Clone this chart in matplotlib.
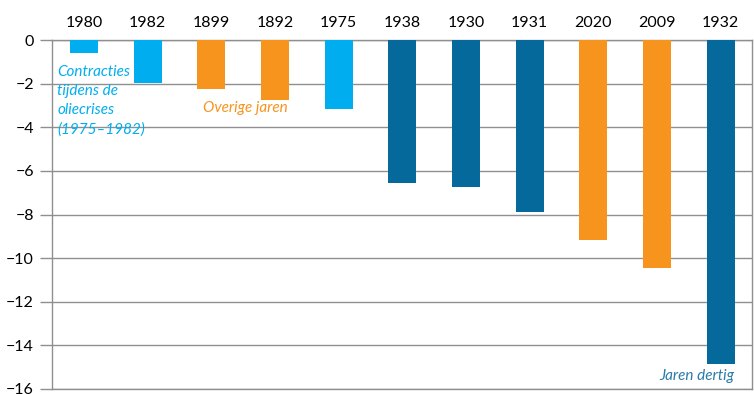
import numpy as np
import matplotlib.pyplot as plt

years = ['1980', '1982', '1899', '1892', '1975', '1938', '1930', '1931', '2020', '2009', '1932']
values = [-0.58, -1.97, -2.25, -2.74, -3.15, -6.55, -6.74, -7.87, -9.16, -10.44, -14.85]
groups = ['olie', 'olie', 'overig', 'overig', 'olie', 'dertig', 'dertig', 'dertig', 'overig', 'overig', 'dertig']

colors = {'olie': '#00AEEF', 'overig': '#F7941E', 'dertig': '#05699B'}
yticks = [0, -2, -4, -6, -8, -10, -12, -14, -16]

plt.rcParams['font.family'] = ['Lato', 'DejaVu Sans']

fig = plt.figure(figsize=(7.54, 3.94), dpi=100)
ax = fig.add_axes([0.069, 0.013, 0.929, 0.885])

x = np.arange(len(years))
ax.bar(x, values, width=0.44, color=[colors[g] for g in groups], zorder=3)

ax.set_xlim(-0.5, len(years) - 0.5)
ax.set_ylim(-16, 0)
ax.set_yticks(yticks)
ax.set_yticklabels([str(t).replace('-', '\u2212') for t in yticks], fontsize=11.5)
ax.yaxis.grid(True, color='#8f8f8f', linewidth=1.0, zorder=0)

ax.xaxis.tick_top()
ax.set_xticks(x)
ax.set_xticklabels(years, fontsize=11.5)
ax.tick_params(axis='x', length=0, pad=7)
ax.tick_params(axis='y', length=9, width=1.0, color='#8f8f8f', pad=4)

for s in ax.spines.values():
    s.set_color('#8f8f8f')
    s.set_linewidth(1.0)

ax.text(-0.42, -1.15, 'Contracties\ntijdens de\noliecrises\n(1975\u20131982)',
        color=colors['olie'], style='italic', fontsize=11, va='top', ha='left',
        linespacing=1.45, zorder=4)
ax.text(2.54, -3.1, 'Overige jaren', color=colors['overig'], style='italic',
        fontsize=11, va='center', ha='center', zorder=4)
ax.text(10.22, -15.4, 'Jaren dertig', color='#2a7aaa', style='italic',
        fontsize=11, va='center', ha='right', zorder=4)

fig.savefig('out.png', dpi=100)
